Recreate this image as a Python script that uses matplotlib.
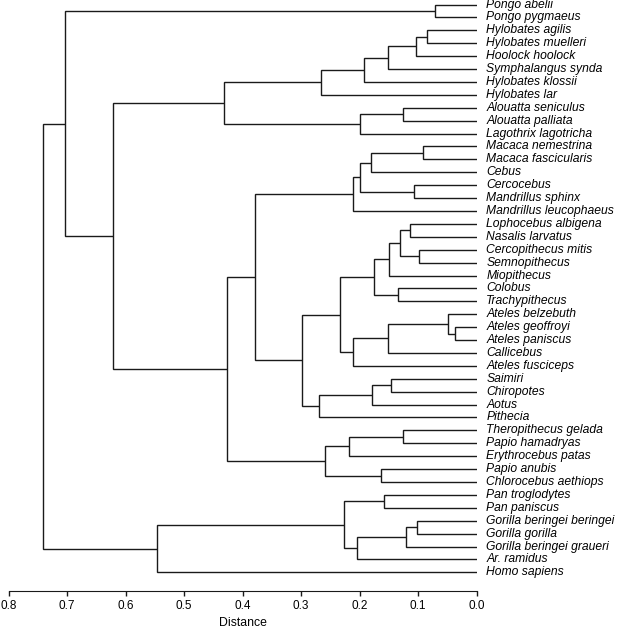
import matplotlib
matplotlib.use("Agg")
import matplotlib.pyplot as plt

plt.rcParams["font.family"] = ["Liberation Sans", "DejaVu Sans"]

# ── data: leaf order (top to bottom) ─────────────────────────────────────────
leaves = [
    "Pongo abelii", "Pongo pygmaeus", "Hylobates agilis", "Hylobates muelleri",
    "Hoolock hoolock", "Symphalangus synda", "Hylobates klossii", "Hylobates lar",
    "Alouatta seniculus", "Alouatta palliata", "Lagothrix lagotricha",
    "Macaca nemestrina", "Macaca fascicularis", "Cebus", "Cercocebus",
    "Mandrillus sphinx", "Mandrillus leucophaeus", "Lophocebus albigena",
    "Nasalis larvatus", "Cercopithecus mitis", "Semnopithecus", "Miopithecus",
    "Colobus", "Trachypithecus", "Ateles belzebuth", "Ateles geoffroyi",
    "Ateles paniscus", "Callicebus", "Ateles fusciceps", "Saimiri",
    "Chiropotes", "Aotus", "Pithecia", "Theropithecus gelada",
    "Papio hamadryas", "Erythrocebus patas", "Papio anubis",
    "Chlorocebus aethiops", "Pan troglodytes", "Pan paniscus",
    "Gorilla beringei beringei", "Gorilla gorilla", "Gorilla beringei graueri",
    "Ar. ramidus", "Homo sapiens",
]

# merges: node ids 0..44 are leaves, each merge k creates node 45 + k
merge_left = [0, 2, 46, 47, 48, 49, 8, 51, 50,
              11, 54, 14, 55, 57,
              17, 19, 59, 61, 22, 62,
              25, 24, 66, 67, 64,
              29, 70, 71, 69, 58,
              33, 75, 36, 76, 74, 53, 45,
              38, 40, 83, 84, 82, 86, 81]
merge_right = [1, 3, 4, 5, 6, 7, 9, 10, 52,
               12, 13, 15, 56, 16,
               18, 20, 60, 21, 23, 63,
               26, 65, 27, 28, 68,
               30, 31, 32, 72, 73,
               34, 35, 37, 77, 78, 79, 80,
               39, 41, 42, 43, 85, 44, 87]
merge_height = [0.071, 0.085, 0.103, 0.151, 0.192, 0.266, 0.126, 0.199, 0.432,
                0.092, 0.181, 0.107, 0.200, 0.211,
                0.114, 0.098, 0.131, 0.149, 0.135, 0.175,
                0.036, 0.049, 0.151, 0.212, 0.233,
                0.147, 0.178, 0.270, 0.298, 0.379,
                0.126, 0.218, 0.163, 0.259, 0.427, 0.622, 0.704,
                0.158, 0.101, 0.120, 0.205, 0.227, 0.547, 0.741]

# ── layout ───────────────────────────────────────────────────────────────────
fig = plt.figure(figsize=(6.17, 6.28), dpi=100)
ax = fig.add_axes([0.0141, 0.0597, 0.7582, 0.9403])

n = len(leaves)
node_x = {i: 0.0 for i in range(n)}
node_y = {i: float(i) for i in range(n)}

line_kw = dict(color="#1a1a1a", lw=1.0, solid_joinstyle="miter",
               solid_capstyle="butt")
for k, (a, b, h) in enumerate(zip(merge_left, merge_right, merge_height)):
    ax.plot([node_x[a], h, h, node_x[b]],
            [node_y[a], node_y[a], node_y[b], node_y[b]], **line_kw)
    node_x[n + k] = h
    node_y[n + k] = (node_y[a] + node_y[b]) / 2

for i, name in enumerate(leaves):
    ax.annotate(name, xy=(0, i), xytext=(7, 0), textcoords="offset points",
                va="center", ha="left", fontsize=8.7, style="italic",
                annotation_clip=False)

ticks = [0.8, 0.7, 0.6, 0.5, 0.4, 0.3, 0.2, 0.1, 0.0]
ax.set_xlim(0.8, 0.0)
ax.set_ylim(45.41, -0.349)
ax.set_xticks(ticks)
ax.set_xticklabels([f"{t:.1f}" for t in ticks])
ax.set_yticks([])
for s in ["top", "left", "right"]:
    ax.spines[s].set_visible(False)
ax.spines["bottom"].set_color("#1a1a1a")
ax.tick_params(axis="x", direction="out", length=3.6, width=1.0,
               color="#1a1a1a", labelsize=8.5, pad=3)
ax.set_xlabel("Distance", fontsize=8.8, labelpad=3.5)
ax.patch.set_visible(False)

fig.savefig("out.png", dpi=100)
